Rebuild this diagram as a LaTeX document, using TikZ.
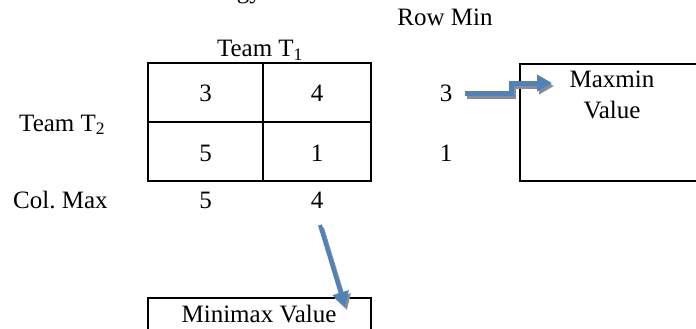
\documentclass[tikz,border=0pt]{standalone}
\usepackage{fontspec}
\setmainfont{Liberation Serif}
\usetikzlibrary{arrows.meta}
\definecolor{arrowblue}{RGB}{79,129,189}
\definecolor{arrowshade}{RGB}{140,140,140}
\tikzset{
  lbl/.style={inner sep=0pt, font=\fontsize{25}{30}\selectfont},
  frame/.style={draw=black, line width=2pt},
  fatarrow/.style={line width=#1, -{Triangle[length=15pt, width=16pt]}},
  shadeoffset/.style={shift={(2pt,-3pt)}}
}
\frenchspacing
\begin{document}
\begin{tikzpicture}[x=1pt, y=-1pt]
\useasboundingbox (0,0) rectangle (696,329);

% heading (only the descenders fall inside the page)
\node[lbl, anchor=base east] (head) at (262,-1.5) {gy};

% labels around the payoff table
\node[lbl, anchor=base] (tone) at (260,57) {Team T\textsubscript{1}};
\node[lbl, anchor=base west] (ttwo) at (19,131) {Team T\textsubscript{2}};
\node[lbl, anchor=base] (rowmin) at (445,26) {Row Min};
\node[lbl, anchor=west] (colmax) at (13,200) {Col. Max};

% payoff table
\draw[frame] (148,63) rectangle (371,181);
\draw[frame] (263,63) -- (263,181);
\draw[frame] (148,122) -- (371,122);
\node[lbl] (a11) at (205.5,93) {3};
\node[lbl] (a12) at (317,93) {4};
\node[lbl] (a21) at (205.5,153) {5};
\node[lbl] (a22) at (317,153) {1};

% row minima and column maxima
\node[lbl] (r1) at (446,93) {3};
\node[lbl] (r2) at (446,153) {1};
\node[lbl] (c1) at (205.5,200) {5};
\node[lbl] (c2) at (317,200) {4};

% result boxes
\draw[frame] (700,64) -- (520,64) -- (520,181) -- (700,181);
\node[lbl, anchor=base] (maxmin) at (612,88) {Maxmin};
\node[lbl, anchor=base] (maxminv) at (612,118) {Value};
\draw[frame] (148,340) -- (148,298) -- (371,298) -- (371,340);
\node[lbl, anchor=base] (minimax) at (259,322) {Minimax Value};

% arrow from the row minimum to the maxmin box, with its drop shadow
\coordinate (s1) at ([xshift=13pt]r1.east);
\coordinate (k1) at (511,93);
\coordinate (k2) at (511,83);
\coordinate (e1) at (552,83);
\draw[fatarrow=5pt, color=arrowshade]
  ([shadeoffset]s1) -- ([shadeoffset]k1) -- ([shadeoffset]k2) -- ([shadeoffset]e1);
\draw[fatarrow=5pt, color=arrowblue] (s1) -- (k1) -- (k2) -- (e1);

% arrow from the column maximum to the minimax box, with its drop shadow
\coordinate (s2) at (320,225);
\coordinate (e2) at (345,307);
\draw[fatarrow=4pt, color=arrowshade] ([shadeoffset]s2) -- ([shadeoffset]e2);
\draw[fatarrow=4pt, color=arrowblue] (s2) -- (e2);
\end{tikzpicture}
\end{document}
